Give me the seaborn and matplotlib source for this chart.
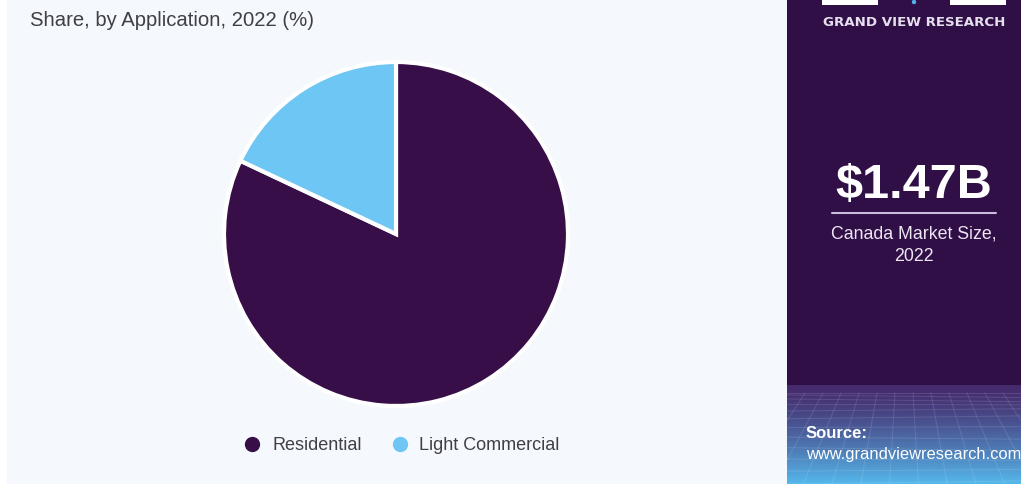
import numpy as np
import matplotlib
matplotlib.use("Agg")
import matplotlib.pyplot as plt
from matplotlib.patches import Rectangle
from matplotlib.lines import Line2D
import seaborn as sns

# Market share by application, Canada 2022 (%)
categories = ["Residential", "Light Commercial"]
shares = [82.0, 18.0]
colors = ["#370e47", "#6ec6f4"]

title_text = "Share, by Application, 2022 (%)"
market_value = "$1.47B"
market_caption = "Canada Market Size,\n2022"
brand = "GRAND VIEW RESEARCH"

sns.set_theme(style="white")
plt.rcParams["font.family"] = ["Liberation Sans", "DejaVu Sans"]

W, H = 1021, 484
fig = plt.figure(figsize=(W / 100, H / 100), dpi=100, facecolor="white")


def fx(px):
    return px / W


def fy(py):
    return 1 - py / H


# light background of the chart area
bg = fig.add_axes([0, 0, 1, 1], zorder=0)
bg.set_xlim(0, W)
bg.set_ylim(H, 0)
bg.axis("off")
bg.add_patch(Rectangle((7, 0), 787 - 7, H, color="#f5f8fc", lw=0))

# right side panel: dark purple with a blue gradient at the bottom
panel_top = 385
bg.add_patch(Rectangle((787, 0), W - 787, panel_top, color="#300e46", lw=0))
grad = np.linspace(0, 1, 200)[:, None] ** 1.3
c0 = np.array([0x45, 0x2a, 0x6c]) / 255
c1 = np.array([0x55, 0xb8, 0xec]) / 255
rgb = c0[None, None, :] * (1 - grad[..., None]) + c1[None, None, :] * grad[..., None]
rgb = np.repeat(rgb, 2, axis=1)
bg.imshow(rgb, extent=(787, W, H, panel_top), aspect="auto", zorder=1)
# faint perspective grid in the gradient band
for k in range(-12, 26):
    x0 = 787 + k * 18
    bg.plot([x0, x0 + (x0 - 904) * 0.6], [panel_top + 8, H],
            color="white", alpha=0.12, lw=0.7, zorder=2)
for i in range(12):
    yy = panel_top + 8 + (H - panel_top - 8) * (i / 11) ** 1.6
    bg.plot([787, W], [yy, yy + 3 * np.sin(i)], color="white", alpha=0.12, lw=0.7, zorder=2)
bg.set_xlim(0, W)
bg.set_ylim(H, 0)

# logo pieces at the top of the panel
bg.add_patch(Rectangle((822, 0), 56, 5, color="white", lw=0, zorder=3))
bg.add_patch(Rectangle((950, 0), 56, 5, color="white", lw=0, zorder=3))
bg.add_patch(plt.Circle((914, 2), 2.2, color="#4fb3ee", lw=0, zorder=3))

bg.text(914, 22, brand, color="#e6e0ee", fontsize=9.6,
        fontweight="bold", ha="center", va="center", family=["DejaVu Sans"], zorder=3)
bg.text(914, 185, market_value, color="white", fontsize=35, fontweight="bold",
        ha="center", va="center", family=["Liberation Sans"], zorder=3)
bg.plot([832, 996], [213, 213], color="#cbbde0", lw=1.5, zorder=3)
bg.text(914, 245, market_caption, color="#ece6f3", fontsize=12.8, ha="center",
        va="center", linespacing=1.4, zorder=3)
bg.text(806, 434, "Source:", color="white", fontsize=12, fontweight="bold",
        ha="left", va="center", zorder=3)
bg.text(806, 455, "www.grandviewresearch.com", color="white", fontsize=11.9,
        ha="left", va="center", zorder=3)

# title
bg.text(30, 20, title_text, color="#3f3f46", fontsize=14.6, ha="left", va="center", zorder=3)

# pie chart
cx, cy, r = 396, 234, 172
ax = fig.add_axes([fx(cx - r), fy(cy + r), 2 * r / W, 2 * r / H], zorder=2)
ax.pie(shares, colors=colors, startangle=90, counterclock=False,
       wedgeprops=dict(edgecolor="white", linewidth=3.0))
ax.set_aspect("equal")
ax.set_xlim(-1, 1)
ax.set_ylim(-1, 1)
ax.axis("off")

# legend
handles = [Line2D([0], [0], marker="o", linestyle="", markersize=10,
                  markerfacecolor=c, markeredgecolor=c) for c in colors]
fig.legend(handles, categories, loc="center", bbox_to_anchor=(fx(397), fy(446)),
           ncol=2, frameon=False, fontsize=13.0, handletextpad=0.1, columnspacing=1.1,
           labelcolor="#3f3f46")

fig.savefig("out.png", dpi=100, facecolor=fig.get_facecolor())
